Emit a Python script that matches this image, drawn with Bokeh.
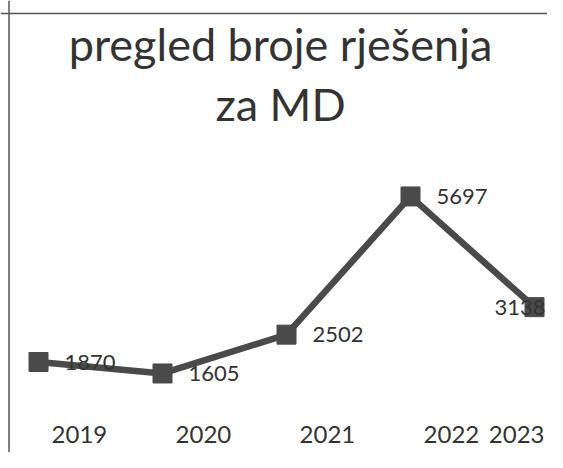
from bokeh.plotting import figure
from bokeh.models import Span, Label, ColumnDataSource
from bokeh.core.properties import value
from bokeh.embed import file_html
from bokeh.resources import INLINE

# ---- data ----
years = ["2019", "2020", "2021", "2022", "2023"]
counts = [1870, 1605, 2502, 5697, 3138]
title_lines = ["pregled broje rješenja", "za MD"]

# ---- layout ----
W, H = 547, 452
px_per_cat = 124.0
first_pt_px = 38.0
x_start = -first_pt_px / px_per_cat
x_end = x_start + W / px_per_cat
px_per_unit = 0.04326
zero_px = 442.4
y_end = zero_px / px_per_unit
y_start = -(H - zero_px) / px_per_unit

FONT = value("Lato")
INK = "#4a4a4a"
TXT = "#333333"

idx = list(range(len(years)))

p = figure(width=W, height=H, x_range=(x_start, x_end), y_range=(y_start, y_end),
           x_axis_type=None, y_axis_type=None, toolbar_location=None,
           output_backend="svg", min_border=0)
p.outline_line_color = None
p.background_fill_color = "white"
p.border_fill_color = "white"

# chart border (left and top visible in the scan)
p.add_layout(Span(location=x_start + 8.5 / px_per_cat, dimension="height",
                  line_color="#555555", line_width=1.5))
p.add_layout(Span(location=(zero_px - 13) / px_per_unit, dimension="width",
                  line_color="#555555", line_width=1.5))

# title
p.add_layout(Label(x=280, y=H - 43, x_units="screen", y_units="screen",
                   text=title_lines[0], text_font="Lato", text_font_size="45px",
                   text_color=TXT, text_align="center", text_baseline="alphabetic"))
p.add_layout(Label(x=280, y=H - 103, x_units="screen", y_units="screen",
                   text=title_lines[1], text_font="Lato", text_font_size="45px",
                   text_color=TXT, text_align="center", text_baseline="alphabetic"))

# series
p.line(idx, counts, line_width=6.5, line_color=INK, line_join="round")
p.scatter(idx, counts, marker="square", size=19, fill_color=INK, line_color=INK)

# data labels: right of point unless it would leave the chart
label_w_px = 54
rx, ry, rt, ex, ey, et = [], [], [], [], [], []
for i, v in zip(idx, counts):
    if i + (26 + label_w_px) / px_per_cat > x_end:
        ex.append(i); ey.append(v); et.append(str(v))
    else:
        rx.append(i); ry.append(v); rt.append(str(v))
p.text(x="x", y="y", text="t", source=ColumnDataSource(dict(x=rx, y=ry, t=rt)),
       x_offset=26, text_font=FONT, text_font_size="22px", text_color=TXT,
       text_align="left", text_baseline="middle")
p.text(x="x", y="y", text="t", source=ColumnDataSource(dict(x=ex, y=ey, t=et)),
       x_offset=11, text_font=FONT, text_font_size="22px", text_color=TXT,
       text_align="right", text_baseline="middle")

# category labels (kept inside the chart at the right edge)
cat_off = 0.33
tick_w_px = 58
cx, ct, kx, kt = [], [], [], []
for i, yr in zip(idx, years):
    if i + cat_off + (tick_w_px / 2) / px_per_cat > x_end:
        kx.append(x_end); kt.append(yr)
    else:
        cx.append(i + cat_off); ct.append(yr)
p.text(x=cx, y=[0] * len(cx), text=ct, y_offset=-8,
       text_font=FONT, text_font_size="24px", text_color=TXT,
       text_align="center", text_baseline="middle")
p.text(x=kx, y=[0] * len(kx), text=kt, y_offset=-8, x_offset=-3,
       text_font=FONT, text_font_size="24px", text_color=TXT,
       text_align="right", text_baseline="middle")

open("out.html", "w").write(file_html(p, INLINE))
